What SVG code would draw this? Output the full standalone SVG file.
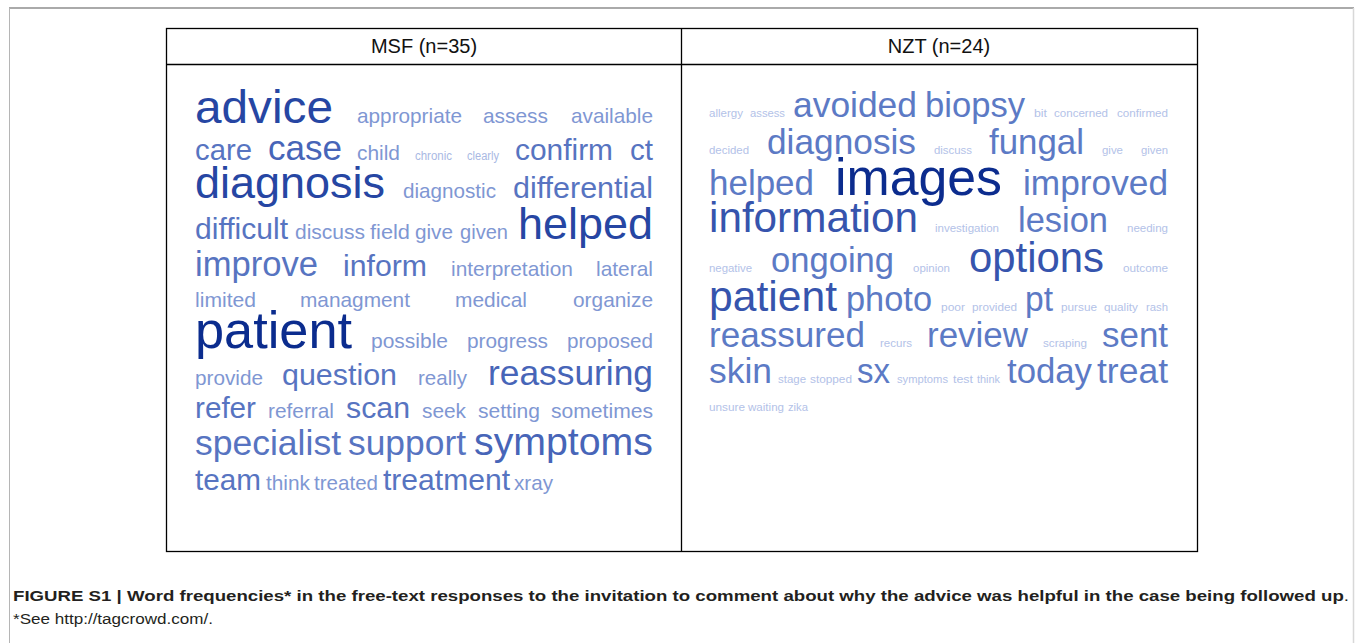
<svg xmlns="http://www.w3.org/2000/svg" width="1355" height="643" viewBox="0 0 1355 643">
<style>
text{font-family:"Liberation Sans",Arial,Helvetica,sans-serif}
.c1{fill:#a9b9e3}.c2{fill:#7f97d3}.c3{fill:#5774c1}.c4{fill:#4765b8}.c5{fill:#2646a3}.c6{fill:#0b2c8e}
.r1{fill:#b3c2e8}.r4{fill:#5c7ac5}.r5{fill:#3654ad}.r6{fill:#0c2c8e}
.hd{font-size:20px;fill:#111;text-anchor:middle}
.cap{font-size:15.5px;fill:#231f20}
</style>
<rect width="1355" height="643" fill="#fff"/>
<g id="frame" fill="none">
<line x1="9" y1="8" x2="1354" y2="8" stroke="#aaaaaa" stroke-width="2"/>
<line x1="9.5" y1="8" x2="9.5" y2="643" stroke="#b5b5b5" stroke-width="1"/>
<line x1="1353.5" y1="8" x2="1353.5" y2="643" stroke="#d8d8d8" stroke-width="1.5"/>
</g>
<g id="table" fill="none" stroke="#000" stroke-width="1.3">
<rect x="166.5" y="28.5" width="1031" height="523"/>
<line x1="166.5" y1="64.5" x2="1197.5" y2="64.5"/>
<line x1="681.5" y1="28.5" x2="681.5" y2="551.5"/>
</g>
<g id="headers">
<text class="hd" x="424" y="53">MSF (n=35)</text>
<text class="hd" x="939" y="53">NZT (n=24)</text>
</g>
<g id="msf-cloud">
<text class="c5" x="195" y="123" font-size="46" textLength="138" lengthAdjust="spacingAndGlyphs">advice</text>
<text class="c2" x="357" y="123" font-size="21" textLength="105" lengthAdjust="spacingAndGlyphs">appropriate</text>
<text class="c2" x="483" y="123" font-size="21" textLength="65" lengthAdjust="spacingAndGlyphs">assess</text>
<text class="c2" x="571" y="123" font-size="21" textLength="82" lengthAdjust="spacingAndGlyphs">available</text>

<text class="c3" x="195" y="160" font-size="29" textLength="57" lengthAdjust="spacingAndGlyphs">care</text>
<text class="c4" x="268" y="160" font-size="35" textLength="74" lengthAdjust="spacingAndGlyphs">case</text>
<text class="c2" x="357" y="160" font-size="21" textLength="43" lengthAdjust="spacingAndGlyphs">child</text>
<text class="c1" x="415" y="160" font-size="12" textLength="37" lengthAdjust="spacingAndGlyphs">chronic</text>
<text class="c1" x="467" y="160" font-size="12" textLength="32" lengthAdjust="spacingAndGlyphs">clearly</text>
<text class="c3" x="515" y="160" font-size="30" textLength="98" lengthAdjust="spacingAndGlyphs">confirm</text>
<text class="c3" x="630" y="160" font-size="30" textLength="23" lengthAdjust="spacingAndGlyphs">ct</text>

<text class="c5" x="195" y="198" font-size="45" textLength="190" lengthAdjust="spacingAndGlyphs">diagnosis</text>
<text class="c2" x="403" y="198" font-size="21" textLength="93" lengthAdjust="spacingAndGlyphs">diagnostic</text>
<text class="c3" x="513" y="198" font-size="30" textLength="140" lengthAdjust="spacingAndGlyphs">differential</text>

<text class="c3" x="195" y="239" font-size="30" textLength="93" lengthAdjust="spacingAndGlyphs">difficult</text>
<text class="c2" x="295" y="239" font-size="21" textLength="70" lengthAdjust="spacingAndGlyphs">discuss</text>
<text class="c2" x="370" y="239" font-size="21" textLength="40" lengthAdjust="spacingAndGlyphs">field</text>
<text class="c2" x="415" y="239" font-size="21" textLength="38" lengthAdjust="spacingAndGlyphs">give</text>
<text class="c2" x="460" y="239" font-size="21" textLength="48" lengthAdjust="spacingAndGlyphs">given</text>
<text class="c5" x="518" y="239" font-size="45" textLength="135" lengthAdjust="spacingAndGlyphs">helped</text>

<text class="c3" x="195" y="276" font-size="35" textLength="123" lengthAdjust="spacingAndGlyphs">improve</text>
<text class="c3" x="343" y="276" font-size="30" textLength="84" lengthAdjust="spacingAndGlyphs">inform</text>
<text class="c2" x="451" y="276" font-size="21" textLength="122" lengthAdjust="spacingAndGlyphs">interpretation</text>
<text class="c2" x="596" y="276" font-size="21" textLength="57" lengthAdjust="spacingAndGlyphs">lateral</text>

<text class="c2" x="195" y="307" font-size="21" textLength="61" lengthAdjust="spacingAndGlyphs">limited</text>
<text class="c2" x="300" y="307" font-size="21" textLength="110" lengthAdjust="spacingAndGlyphs">managment</text>
<text class="c2" x="455" y="307" font-size="21" textLength="72" lengthAdjust="spacingAndGlyphs">medical</text>
<text class="c2" x="573" y="307" font-size="21" textLength="80" lengthAdjust="spacingAndGlyphs">organize</text>

<text class="c6" x="195" y="348" font-size="52" textLength="157" lengthAdjust="spacingAndGlyphs">patient</text>
<text class="c2" x="371" y="348" font-size="21" textLength="77" lengthAdjust="spacingAndGlyphs">possible</text>
<text class="c2" x="467" y="348" font-size="21" textLength="81" lengthAdjust="spacingAndGlyphs">progress</text>
<text class="c2" x="567" y="348" font-size="21" textLength="86" lengthAdjust="spacingAndGlyphs">proposed</text>

<text class="c2" x="195" y="385" font-size="21" textLength="68" lengthAdjust="spacingAndGlyphs">provide</text>
<text class="c3" x="282" y="385" font-size="30" textLength="115" lengthAdjust="spacingAndGlyphs">question</text>
<text class="c2" x="418" y="385" font-size="21" textLength="49" lengthAdjust="spacingAndGlyphs">really</text>
<text class="c4" x="488" y="385" font-size="35" textLength="165" lengthAdjust="spacingAndGlyphs">reassuring</text>

<text class="c3" x="195" y="418" font-size="30" textLength="61" lengthAdjust="spacingAndGlyphs">refer</text>
<text class="c2" x="268" y="418" font-size="21" textLength="66" lengthAdjust="spacingAndGlyphs">referral</text>
<text class="c3" x="346" y="418" font-size="30" textLength="64" lengthAdjust="spacingAndGlyphs">scan</text>
<text class="c2" x="422" y="418" font-size="21" textLength="44" lengthAdjust="spacingAndGlyphs">seek</text>
<text class="c2" x="478" y="418" font-size="21" textLength="62" lengthAdjust="spacingAndGlyphs">setting</text>
<text class="c2" x="551" y="418" font-size="21" textLength="102" lengthAdjust="spacingAndGlyphs">sometimes</text>

<text class="c3" x="195" y="455" font-size="35" textLength="146" lengthAdjust="spacingAndGlyphs">specialist</text>
<text class="c3" x="348" y="455" font-size="35" textLength="118" lengthAdjust="spacingAndGlyphs">support</text>
<text class="c4" x="474" y="455" font-size="39" textLength="179" lengthAdjust="spacingAndGlyphs">symptoms</text>

<text class="c3" x="195" y="490" font-size="30" textLength="66" lengthAdjust="spacingAndGlyphs">team</text>
<text class="c2" x="266" y="490" font-size="21" textLength="44" lengthAdjust="spacingAndGlyphs">think</text>
<text class="c2" x="314" y="490" font-size="21" textLength="64" lengthAdjust="spacingAndGlyphs">treated</text>
<text class="c3" x="383" y="490" font-size="30" textLength="127" lengthAdjust="spacingAndGlyphs">treatment</text>
<text class="c2" x="514" y="490" font-size="21" textLength="39" lengthAdjust="spacingAndGlyphs">xray</text>
</g>
<g id="nzt-cloud">
<text class="r1" x="709" y="117" font-size="11.5" textLength="34" lengthAdjust="spacingAndGlyphs">allergy</text>
<text class="r1" x="750" y="117" font-size="11.5" textLength="35" lengthAdjust="spacingAndGlyphs">assess</text>
<text class="r4" x="793" y="117" font-size="35" textLength="124" lengthAdjust="spacingAndGlyphs">avoided</text>
<text class="r4" x="925" y="117" font-size="35" textLength="100" lengthAdjust="spacingAndGlyphs">biopsy</text>
<text class="r1" x="1034" y="117" font-size="11.5" textLength="13" lengthAdjust="spacingAndGlyphs">bit</text>
<text class="r1" x="1054" y="117" font-size="11.5" textLength="54" lengthAdjust="spacingAndGlyphs">concerned</text>
<text class="r1" x="1117" y="117" font-size="11.5" textLength="51" lengthAdjust="spacingAndGlyphs">confirmed</text>

<text class="r1" x="709" y="154" font-size="11.5" textLength="40" lengthAdjust="spacingAndGlyphs">decided</text>
<text class="r4" x="767" y="154" font-size="35" textLength="149" lengthAdjust="spacingAndGlyphs">diagnosis</text>
<text class="r1" x="934" y="154" font-size="11.5" textLength="38" lengthAdjust="spacingAndGlyphs">discuss</text>
<text class="r4" x="989" y="154" font-size="35" textLength="95" lengthAdjust="spacingAndGlyphs">fungal</text>
<text class="r1" x="1102" y="154" font-size="11.5" textLength="21" lengthAdjust="spacingAndGlyphs">give</text>
<text class="r1" x="1141" y="154" font-size="11.5" textLength="27" lengthAdjust="spacingAndGlyphs">given</text>

<text class="r4" x="709" y="195" font-size="35" textLength="105" lengthAdjust="spacingAndGlyphs">helped</text>
<text class="r6" x="835" y="195" font-size="52" textLength="167" lengthAdjust="spacingAndGlyphs">images</text>
<text class="r4" x="1023" y="195" font-size="35" textLength="145" lengthAdjust="spacingAndGlyphs">improved</text>

<text class="r5" x="709" y="232" font-size="42" textLength="209" lengthAdjust="spacingAndGlyphs">information</text>
<text class="r1" x="935" y="232" font-size="11.5" textLength="64" lengthAdjust="spacingAndGlyphs">investigation</text>
<text class="r4" x="1018" y="232" font-size="35" textLength="90" lengthAdjust="spacingAndGlyphs">lesion</text>
<text class="r1" x="1127" y="232" font-size="11.5" textLength="41" lengthAdjust="spacingAndGlyphs">needing</text>

<text class="r1" x="709" y="272" font-size="11.5" textLength="43" lengthAdjust="spacingAndGlyphs">negative</text>
<text class="r4" x="771" y="272" font-size="35" textLength="123" lengthAdjust="spacingAndGlyphs">ongoing</text>
<text class="r1" x="913" y="272" font-size="11.5" textLength="37" lengthAdjust="spacingAndGlyphs">opinion</text>
<text class="r5" x="969" y="272" font-size="42" textLength="135" lengthAdjust="spacingAndGlyphs">options</text>
<text class="r1" x="1123" y="272" font-size="11.5" textLength="45" lengthAdjust="spacingAndGlyphs">outcome</text>

<text class="r5" x="709" y="311" font-size="42" textLength="128" lengthAdjust="spacingAndGlyphs">patient</text>
<text class="r4" x="846" y="311" font-size="35" textLength="86" lengthAdjust="spacingAndGlyphs">photo</text>
<text class="r1" x="941" y="311" font-size="11.5" textLength="24" lengthAdjust="spacingAndGlyphs">poor</text>
<text class="r1" x="972" y="311" font-size="11.5" textLength="45" lengthAdjust="spacingAndGlyphs">provided</text>
<text class="r4" x="1025" y="311" font-size="35" textLength="28" lengthAdjust="spacingAndGlyphs">pt</text>
<text class="r1" x="1061" y="311" font-size="11.5" textLength="36" lengthAdjust="spacingAndGlyphs">pursue</text>
<text class="r1" x="1104" y="311" font-size="11.5" textLength="34" lengthAdjust="spacingAndGlyphs">quality</text>
<text class="r1" x="1146" y="311" font-size="11.5" textLength="22" lengthAdjust="spacingAndGlyphs">rash</text>

<text class="r4" x="709" y="347" font-size="35" textLength="156" lengthAdjust="spacingAndGlyphs">reassured</text>
<text class="r1" x="880" y="347" font-size="11.5" textLength="32" lengthAdjust="spacingAndGlyphs">recurs</text>
<text class="r4" x="927" y="347" font-size="35" textLength="101" lengthAdjust="spacingAndGlyphs">review</text>
<text class="r1" x="1043" y="347" font-size="11.5" textLength="44" lengthAdjust="spacingAndGlyphs">scraping</text>
<text class="r4" x="1102" y="347" font-size="35" textLength="66" lengthAdjust="spacingAndGlyphs">sent</text>

<text class="r4" x="709" y="383" font-size="35" textLength="63" lengthAdjust="spacingAndGlyphs">skin</text>
<text class="r1" x="778" y="383" font-size="11.5" textLength="28" lengthAdjust="spacingAndGlyphs">stage</text>
<text class="r1" x="810" y="383" font-size="11.5" textLength="42" lengthAdjust="spacingAndGlyphs">stopped</text>
<text class="r4" x="857" y="383" font-size="35" textLength="33" lengthAdjust="spacingAndGlyphs">sx</text>
<text class="r1" x="897" y="383" font-size="11.5" textLength="51" lengthAdjust="spacingAndGlyphs">symptoms</text>
<text class="r1" x="953" y="383" font-size="11.5" textLength="20" lengthAdjust="spacingAndGlyphs">test</text>
<text class="r1" x="977" y="383" font-size="11.5" textLength="23" lengthAdjust="spacingAndGlyphs">think</text>
<text class="r4" x="1007" y="383" font-size="35" textLength="85" lengthAdjust="spacingAndGlyphs">today</text>
<text class="r4" x="1097" y="383" font-size="35" textLength="71" lengthAdjust="spacingAndGlyphs">treat</text>

<text class="r1" x="709" y="411" font-size="11.5" textLength="36" lengthAdjust="spacingAndGlyphs">unsure</text>
<text class="r1" x="748" y="411" font-size="11.5" textLength="36" lengthAdjust="spacingAndGlyphs">waiting</text>
<text class="r1" x="788" y="411" font-size="11.5" textLength="20" lengthAdjust="spacingAndGlyphs">zika</text>
</g>
<g id="caption">
<text class="cap" x="13" y="601" font-weight="bold" textLength="1336" lengthAdjust="spacingAndGlyphs">FIGURE S1 | Word frequencies* in the free-text responses to the invitation to comment about why the advice was helpful in the case being followed up<tspan font-weight="normal">.</tspan></text>
<text class="cap" x="13" y="624" textLength="200" lengthAdjust="spacingAndGlyphs">*See http://tagcrowd.com/.</text>
</g>
</svg>
